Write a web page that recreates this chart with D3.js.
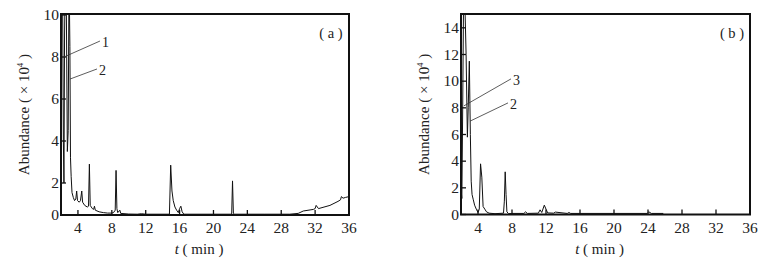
<!DOCTYPE html>
<html>
<head>
<meta charset="utf-8">
<script src="https://cdn.jsdelivr.net/npm/d3@7"></script>
<style>
  body { margin: 0; background: #fff; }
  svg { display: block; }
  text { font-family: "Liberation Serif", "DejaVu Serif", serif; fill: #222; }
</style>
</head>
<body>
<div id="chart"></div>
<script>
// chromatogram (a): retention time (min) and abundance (x10^4)
const timeA = [2.0, 2.08, 2.18, 2.28, 2.35, 2.42, 2.5, 2.62, 2.75, 2.85, 2.95, 3.05, 3.12, 3.2, 3.3, 3.45,
  3.6, 3.75, 3.85, 3.95, 4.15, 4.3, 4.45, 4.55, 4.8, 5.1, 5.25, 5.35, 5.45, 5.7, 5.85, 5.95, 6.05, 6.5,
  7.0, 7.5, 8.0, 8.2, 8.4, 8.5, 8.6, 8.7, 8.95, 9.05, 10, 11, 11.5, 12, 14.8, 14.95, 15.1, 15.25, 15.45,
  15.65, 15.85, 16.0, 16.15, 16.3, 16.5, 19, 22.15, 22.25, 22.35, 22.5, 26, 29, 30, 30.6, 31.8, 32.0,
  32.12, 32.4, 33.75, 34.7, 35.0, 35.1, 35.3, 35.6, 36];
const abundA = [1.6, 11, 12, 4, 2.0, 9, 12, 11, 3.5, 4.5, 12, 8.5, 3.2, 2.3, 1.4, 1.1,
  0.9, 1.0, 1.5, 0.9, 0.8, 0.9, 1.5, 0.8, 0.6, 0.5, 0.55, 2.9, 0.6, 0.4, 0.35, 0.55, 0.3, 0.2,
  0.15, 0.12, 0.12, 0.15, 0.3, 2.6, 0.4, 0.15, 0.3, 0.1, 0.06, 0.05, 0.08, 0.05, 0.05, 2.85, 1.5, 0.9, 0.5,
  0.3, 0.15, 0.4, 0.55, 0.2, 0.05, 0.05, 0.05, 2.1, 0.1, 0.05, 0.05, 0.05, 0.1, 0.25, 0.35, 0.4,
  0.6, 0.4, 0.6, 0.85, 0.95, 1.15, 1.05, 1.1, 1.15];

// chromatogram (b)
const timeB = [2.0, 2.05, 2.1, 2.2, 2.3, 2.45, 2.6, 2.75, 2.85, 2.98, 3.1, 3.2, 3.3, 3.45, 3.6, 3.8,
  4.0, 4.15, 4.3, 4.45, 4.6, 4.8, 5.0, 5.3, 6.0, 7.0, 7.1, 7.2, 7.3, 7.4, 7.6, 8.0, 9.4, 9.6, 9.8,
  11.1, 11.3, 11.5, 11.8, 12.0, 12.2, 12.9, 13.1, 14.5, 14.7, 14.9, 23.9, 24.1, 24.4, 25.8];
const abundB = [0.8, 1.6, 1.2, 8, 16, 16, 12, 5.8, 8, 11.5, 6, 2.5, 1.5, 1.1, 0.7, 0.4,
  0.15, 0.4, 3.8, 2.8, 0.6, 0.4, 0.2, 0.1, 0.06, 0.1, 1.0, 3.2, 1.5, 0.2, 0.06, 0.08, 0.08, 0.2, 0.08,
  0.1, 0.35, 0.15, 0.7, 0.4, 0.12, 0.1, 0.18, 0.08, 0.15, 0.08, 0.08, 0.2, 0.08, 0.08];

const xTicks = [4, 8, 12, 16, 20, 24, 28, 32, 36];
const yTicksA = [0, 2, 4, 6, 8, 10];
const yTicksB = [0, 2, 4, 6, 8, 10, 12, 14];
const peakLabelsA = ['1', '2'];
const peakLabelsB = ['3', '2'];

const svg = d3.select('#chart').append('svg')
  .attr('width', 775)
  .attr('height', 269);

function drawPanel(cfg) {
  const x = d3.scaleLinear().domain([2, 36]).range([cfg.left, cfg.right]);
  const y = cfg.y;
  const top = 14, bottom = cfg.bottom;
  const g = svg.append('g');

  g.append('clipPath').attr('id', 'clip-' + cfg.id)
    .append('rect')
    .attr('x', cfg.left).attr('y', top)
    .attr('width', cfg.right - cfg.left).attr('height', bottom - top);

  const pts = cfg.time.map((t, i) => [t, cfg.abund[i]]);
  const line = d3.line().x(d => x(d[0])).y(d => y(d[1]));
  g.append('path')
    .datum(pts)
    .attr('clip-path', `url(#clip-${cfg.id})`)
    .attr('d', line)
    .attr('fill', 'none')
    .attr('stroke', '#111')
    .attr('stroke-width', 1);

  // inward ticks
  g.selectAll('.xt').data(xTicks).enter().append('line')
    .attr('x1', d => x(d)).attr('x2', d => x(d))
    .attr('y1', bottom).attr('y2', bottom - 5)
    .attr('stroke', '#111').attr('stroke-width', 1.3);
  g.selectAll('.yt').data(cfg.yTicks).enter().append('line')
    .attr('x1', cfg.left).attr('x2', cfg.left + 5)
    .attr('y1', d => y(d)).attr('y2', d => y(d))
    .attr('stroke', '#111').attr('stroke-width', 1.3);

  // frame
  g.append('rect')
    .attr('x', cfg.left).attr('y', top)
    .attr('width', cfg.right - cfg.left).attr('height', bottom - top)
    .attr('fill', 'none').attr('stroke', '#111').attr('stroke-width', 2);

  g.selectAll('.xl').data(xTicks).enter().append('text')
    .attr('x', d => x(d)).attr('y', bottom + 18)
    .attr('text-anchor', 'middle')
    .attr('font-size', 15.5)
    .text(d => d);
  g.selectAll('.yl').data(cfg.yTicks).enter().append('text')
    .attr('x', cfg.left - 2).attr('y', d => y(d) + 5)
    .attr('text-anchor', 'end')
    .attr('font-size', 15.5)
    .text(d => d);

  const xl = g.append('text')
    .attr('x', (cfg.left + cfg.right) / 2 - 6).attr('y', 254)
    .attr('text-anchor', 'middle')
    .attr('font-size', 15);
  xl.append('tspan').attr('font-style', 'italic').text('t');
  xl.append('tspan').text(' ( min )');

  const yl = g.append('text')
    .attr('transform', `translate(${cfg.left - 32},${(top + bottom) / 2}) rotate(-90)`)
    .attr('text-anchor', 'middle')
    .attr('font-size', 15);
  yl.append('tspan').text('Abundance ( × 10');
  yl.append('tspan').attr('font-size', 9).attr('dy', -6).text('4');
  yl.append('tspan').attr('dy', 6).text(' )');

  g.append('text')
    .attr('x', cfg.right - 18).attr('y', 38)
    .attr('text-anchor', 'middle')
    .attr('font-size', 14.5)
    .text(cfg.tag);

  cfg.notes.forEach(n => {
    g.append('line')
      .attr('x1', x(n.t0)).attr('y1', y(n.v0))
      .attr('x2', x(n.t1)).attr('y2', y(n.v1))
      .attr('stroke', '#333').attr('stroke-width', 0.8);
    g.append('text')
      .attr('x', x(n.t1) + 2).attr('y', y(n.v1) + 6)
      .attr('font-size', 14)
      .text(n.label);
  });
}

drawPanel({
  id: 'a', tag: '( a )', left: 61, right: 349, bottom: 215,
  time: timeA, abund: abundA, yTicks: yTicksA,
  y: d3.scaleLinear().domain([0, 2, 10]).range([215, 183, 15]),
  notes: [
    { label: peakLabelsA[0], t0: 2.35, v0: 8.0, t1: 6.6, v1: 8.76 },
    { label: peakLabelsA[1], t0: 3.06, v0: 6.95, t1: 6.25, v1: 7.43 }
  ]
});

drawPanel({
  id: 'b', tag: '( b )', left: 461, right: 750, bottom: 214.5,
  time: timeB, abund: abundB, yTicks: yTicksB,
  y: d3.scaleLinear().domain([0, 15]).range([214.5, 14.5]),
  notes: [
    { label: peakLabelsB[0], t0: 2.35, v0: 8.15, t1: 7.88, v1: 10.17 },
    { label: peakLabelsB[1], t0: 3.06, v0: 7.0, t1: 7.53, v1: 8.37 }
  ]
});
</script>
</body>
</html>
